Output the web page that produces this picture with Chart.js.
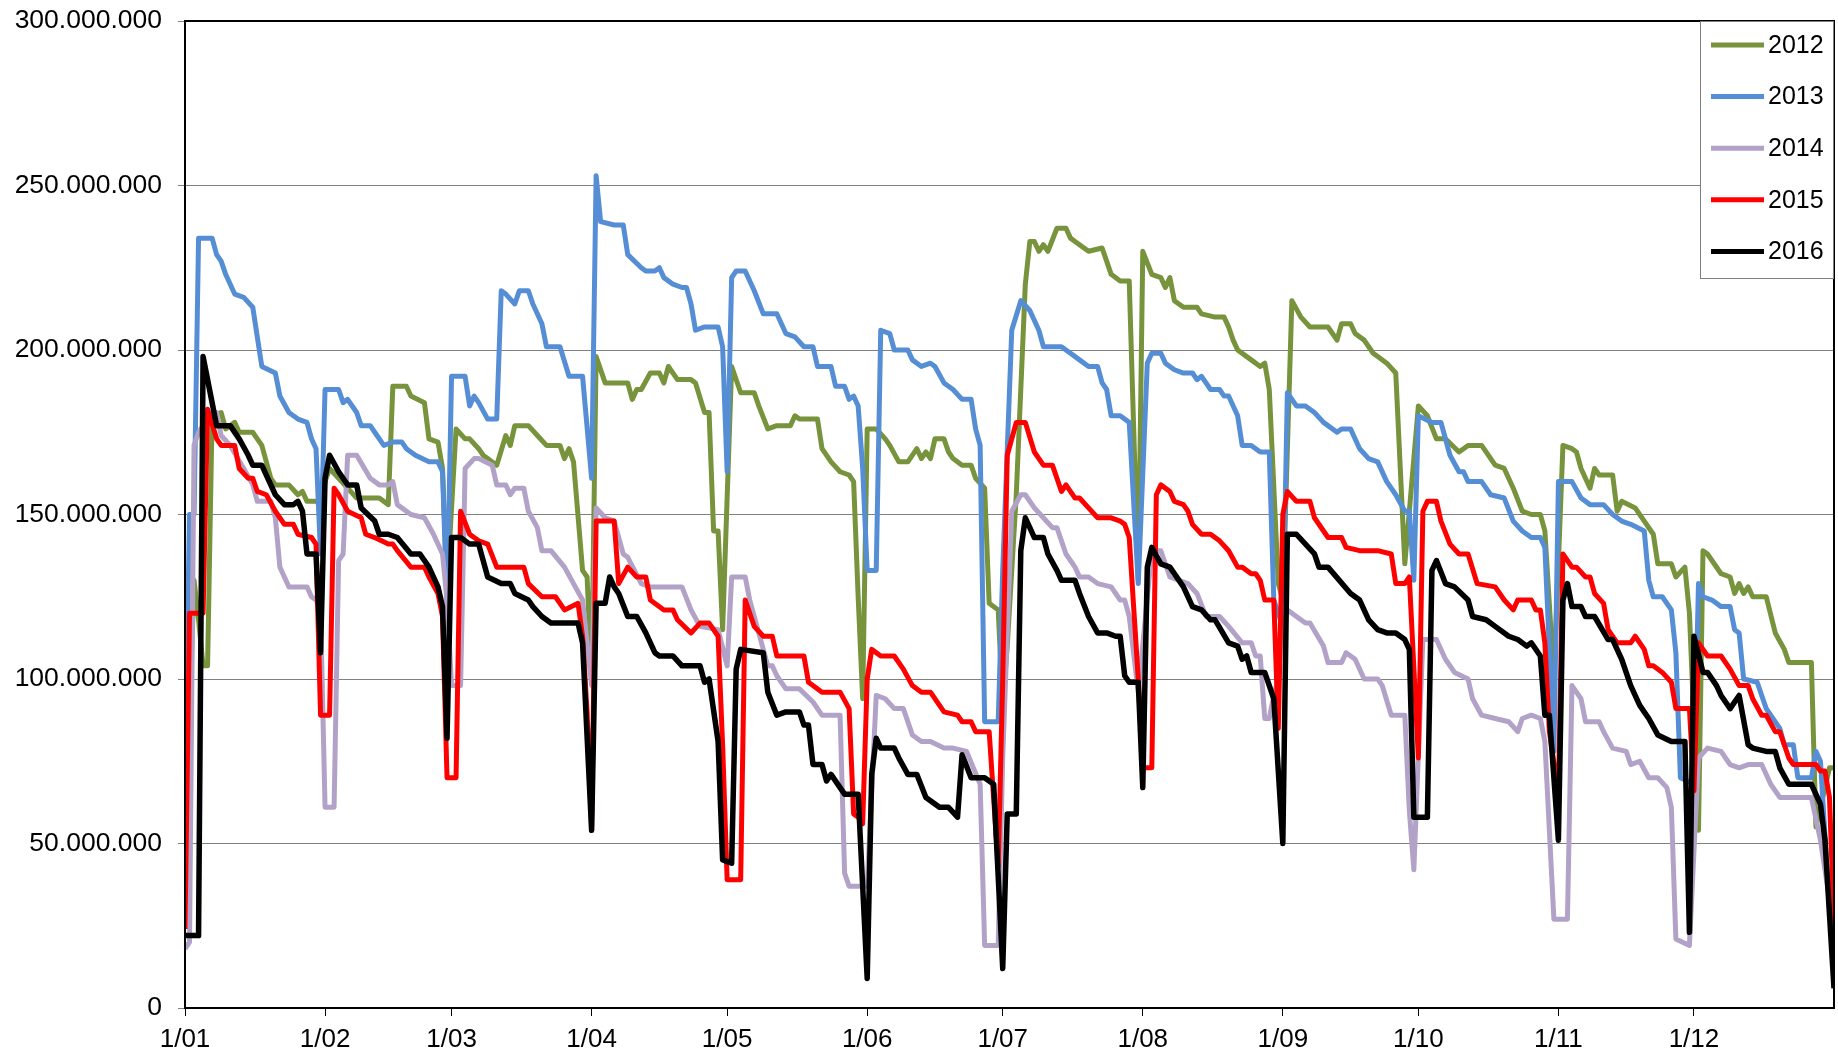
<!DOCTYPE html>
<html>
<head>
<meta charset="utf-8">
<script src="https://cdn.jsdelivr.net/npm/chart.js@4.4.1/dist/chart.umd.min.js"></script>
<style>
  html, body { margin: 0; padding: 0; background: #fff; }
  #wrap { width: 1838px; height: 1059px; }
</style>
</head>
<body>
<div id="wrap"><canvas id="chart" width="1838" height="1059"></canvas></div>
<script>
// x axis: day of year, ticks at the first of each month
const monthStarts = [0, 31, 59, 90, 120, 151, 181, 212, 243, 273, 304, 334];
const monthLabels = ["1/01", "1/02", "1/03", "1/04", "1/05", "1/06", "1/07", "1/08", "1/09", "1/10", "1/11", "1/12"];
const yTicks = [0, 50e6, 100e6, 150e6, 200e6, 250e6, 300e6];

const seriesNames = ["2012", "2013", "2014", "2015", "2016"];
const seriesColors = ["#77933C", "#558ED5", "#B3A2C7", "#FF0000", "#000000"];

// [day, value in millions]
const s2012 = [[0,48],[2,130],[3,118],[4,104],[5,104],[6,180],[8,181],[9,176],[11,178],[12,175],[15,175],[16,173],[17,171],[19,161],[20,159],[23,159],[25,156],[26,157],[27,154],[29,154],[30,153],[31,160],[32,164],[36,158],[38,155],[43,155],[45,153],[46,189],[49,189],[50,186],[53,184],[54,173],[56,172],[57,164],[58,128],[60,176],[62,173],[63,173],[65,170],[66,168],[69,165],[71,174],[72,171],[73,177],[76,177],[78,174],[80,171],[83,171],[84,167],[85,170],[86,166],[88,133],[89,131],[90,100],[91,198],[93,190],[98,190],[99,185],[100,188],[101,188],[103,193],[105,193],[106,190],[107,195],[109,191],[112,191],[113,190],[115,181],[116,181],[117,145],[118,145],[119,115],[121,195],[123,187],[126,187],[127,183],[129,176],[131,177],[134,177],[135,180],[136,179],[140,179],[141,170],[143,166],[145,163],[147,162],[148,160],[149,125],[150,94],[151,176],[153,176],[155,173],[156,171],[158,166],[160,166],[162,170],[163,167],[164,169],[165,167],[166,173],[168,173],[169,169],[170,167],[172,165],[174,165],[175,161],[177,158],[178,123],[180,121],[181,92],[182,110],[184,156],[186,220],[187,233],[188,233],[189,230],[190,232],[191,230],[193,237],[195,237],[196,234],[197,233],[199,231],[200,230],[203,231],[204,227],[205,223],[207,221],[209,221],[211,130],[212,230],[214,223],[216,222],[217,219],[218,222],[219,215],[221,213],[224,213],[225,211],[228,210],[230,210],[231,207],[232,203],[233,200],[236,197],[238,195],[239,196],[240,188],[242,129],[243,124],[245,215],[247,210],[249,207],[253,207],[255,203],[256,208],[258,208],[259,205],[261,203],[263,199],[264,198],[266,196],[268,193],[270,135],[273,183],[275,180],[277,173],[279,173],[282,169],[284,171],[287,171],[290,165],[292,164],[294,158],[296,151],[298,150],[300,150],[301,145],[303,100],[305,171],[307,170],[308,169],[309,164],[311,158],[312,164],[313,162],[316,162],[317,151],[318,154],[321,152],[323,148],[325,144],[326,135],[329,135],[330,131],[332,134],[333,120],[335,54],[336,139],[337,138],[340,132],[342,131],[343,126],[344,129],[345,126],[346,128],[347,125],[350,125],[352,114],[354,109],[355,105],[360,105],[361,55],[364,73],[365,73]];
const s2013 = [[0,70],[1,150],[2,150],[3,234],[6,234],[7,229],[8,227],[9,223],[11,217],[13,216],[15,213],[16,204],[17,195],[20,193],[21,186],[23,181],[25,179],[27,178],[28,173],[29,170],[30,138],[31,188],[34,188],[35,184],[36,185],[38,181],[39,177],[41,177],[42,175],[44,171],[46,172],[48,172],[49,170],[51,168],[54,166],[56,166],[57,163],[58,122],[59,192],[62,192],[63,183],[64,186],[65,184],[67,179],[69,179],[70,218],[71,217],[73,214],[74,218],[76,218],[77,214],[79,208],[80,201],[83,201],[85,192],[88,192],[90,161],[91,253],[92,239],[95,238],[97,238],[98,229],[101,225],[102,224],[104,224],[105,225],[106,222],[108,220],[110,219],[111,219],[112,214],[113,206],[115,207],[118,207],[119,201],[120,163],[121,222],[122,224],[124,224],[126,218],[128,211],[131,211],[133,205],[135,204],[137,201],[139,201],[140,195],[143,195],[144,189],[146,189],[147,185],[148,186],[149,183],[150,164],[151,133],[153,133],[154,206],[156,205],[157,200],[160,200],[161,197],[163,195],[165,196],[166,195],[168,190],[170,188],[172,185],[174,185],[175,176],[176,171],[177,87],[180,87],[181,133],[183,206],[185,215],[187,212],[189,206],[190,201],[194,201],[196,199],[198,197],[200,195],[202,195],[203,190],[204,188],[205,180],[207,180],[209,178],[211,129],[213,196],[214,199],[216,199],[217,196],[219,194],[221,193],[223,193],[224,191],[225,192],[226,190],[227,188],[229,188],[230,186],[231,186],[233,180],[234,171],[236,171],[238,169],[240,169],[241,124],[243,116],[244,187],[246,183],[248,183],[250,181],[252,178],[255,175],[256,176],[258,176],[260,170],[262,167],[264,166],[266,160],[268,156],[270,151],[271,151],[272,130],[273,180],[276,178],[278,178],[280,168],[282,163],[283,163],[284,160],[287,160],[289,156],[292,155],[294,148],[296,145],[298,143],[300,143],[301,140],[303,78],[304,160],[307,160],[309,155],[311,153],[314,153],[316,150],[318,148],[320,147],[323,145],[324,130],[325,125],[327,125],[329,121],[330,108],[331,70],[334,68],[335,129],[336,125],[338,124],[340,122],[342,122],[343,115],[344,114],[345,100],[348,99],[349,95],[350,91],[353,85],[354,80],[356,80],[357,70],[360,70],[361,78],[362,75],[364,30],[365,22]];
const s2014 = [[0,18],[1,20],[2,171],[3,175],[6,181],[7,181],[8,174],[10,171],[13,164],[15,159],[16,154],[19,154],[20,149],[21,134],[22,131],[23,128],[27,128],[28,125],[29,124],[30,121],[31,61],[33,61],[34,136],[35,138],[36,168],[38,168],[41,161],[43,159],[45,159],[46,160],[47,153],[50,150],[53,149],[55,144],[57,138],[58,124],[59,98],[61,98],[62,164],[64,167],[65,167],[68,165],[69,159],[71,159],[72,156],[73,158],[75,158],[76,151],[78,146],[79,139],[81,139],[84,134],[86,129],[88,124],[90,98],[91,152],[93,149],[95,148],[97,138],[98,137],[101,129],[103,128],[110,128],[112,121],[114,116],[118,115],[120,104],[121,131],[124,131],[125,124],[127,114],[129,104],[130,104],[131,101],[133,97],[136,97],[139,93],[141,89],[145,89],[146,41],[147,37],[151,37],[153,95],[155,94],[157,91],[159,91],[161,83],[163,81],[165,81],[168,79],[170,79],[173,78],[176,68],[177,19],[180,19],[181,76],[183,151],[185,156],[186,156],[188,152],[190,149],[192,146],[193,146],[195,138],[197,134],[198,131],[200,131],[202,129],[205,128],[207,124],[208,124],[209,119],[211,96],[214,139],[216,139],[218,131],[222,129],[224,126],[226,119],[229,119],[231,116],[234,111],[236,111],[237,107],[238,107],[239,88],[240,88],[241,95],[242,100],[243,122],[246,119],[248,117],[249,117],[252,110],[253,105],[256,105],[257,108],[259,106],[261,100],[264,100],[265,98],[267,89],[270,89],[271,60],[272,42],[274,112],[277,112],[279,106],[281,102],[284,100],[285,94],[287,89],[290,88],[293,87],[295,84],[296,88],[298,89],[300,88],[301,81],[303,27],[306,27],[307,98],[309,94],[310,87],[313,87],[314,84],[316,79],[319,78],[320,74],[322,75],[324,70],[326,70],[328,67],[329,61],[330,21],[333,19],[335,76],[337,79],[340,78],[342,74],[344,73],[346,74],[349,74],[351,68],[353,64],[360,64],[362,51],[364,33],[365,32]];
const s2015 = [[0,24],[1,120],[4,120],[5,182],[7,173],[8,171],[11,171],[12,164],[14,161],[15,161],[16,157],[18,156],[20,151],[22,147],[24,147],[25,144],[28,143],[29,141],[30,89],[32,89],[33,158],[34,156],[36,151],[39,149],[40,144],[42,143],[45,141],[46,141],[47,139],[50,134],[53,134],[54,131],[56,126],[57,119],[58,70],[60,70],[61,151],[63,144],[65,142],[67,141],[69,134],[71,134],[73,134],[75,134],[76,129],[79,125],[82,125],[84,121],[87,123],[88,113],[89,90],[90,55],[91,148],[95,148],[96,129],[98,134],[100,131],[102,131],[103,124],[106,121],[108,121],[109,118],[112,114],[114,117],[116,117],[118,113],[119,80],[120,39],[123,39],[124,124],[126,116],[128,113],[130,113],[131,107],[137,107],[138,99],[139,98],[141,96],[145,96],[147,91],[148,59],[149,58],[150,56],[151,100],[152,109],[154,107],[157,107],[159,103],[161,98],[163,96],[165,96],[168,90],[171,89],[172,87],[174,87],[175,84],[178,84],[180,43],[181,100],[182,168],[184,178],[186,178],[188,169],[190,165],[192,165],[194,157],[195,159],[197,155],[198,155],[200,152],[202,149],[205,149],[207,148],[208,147],[209,143],[211,100],[212,73],[214,73],[215,156],[216,159],[218,157],[219,154],[221,153],[222,151],[223,147],[225,144],[227,144],[229,142],[231,139],[233,134],[234,134],[236,132],[237,132],[238,130],[239,124],[241,124],[242,85],[243,150],[244,157],[246,154],[249,154],[250,149],[253,143],[256,143],[257,140],[260,139],[264,139],[267,138],[268,129],[270,129],[271,131],[273,76],[274,151],[275,154],[277,154],[278,148],[280,141],[282,138],[284,138],[286,129],[290,128],[292,124],[294,121],[295,124],[298,124],[299,121],[300,121],[301,111],[302,84],[304,65],[305,138],[307,134],[308,134],[310,131],[311,131],[312,126],[314,123],[315,115],[317,111],[320,111],[321,113],[323,109],[324,104],[325,104],[327,102],[329,99],[330,91],[333,91],[334,66],[335,111],[337,107],[340,107],[342,103],[344,98],[346,98],[347,94],[349,89],[350,89],[352,84],[353,84],[355,76],[356,74],[361,74],[362,72],[363,72],[364,64],[365,26]];
const s2016 = [[0,22],[3,22],[4,198],[5,191],[6,184],[7,177],[10,177],[12,173],[14,168],[15,165],[17,165],[18,162],[20,156],[22,153],[24,153],[25,154],[26,151],[27,138],[29,138],[30,108],[31,161],[32,168],[34,163],[36,159],[38,159],[39,152],[42,148],[43,144],[45,144],[47,143],[50,138],[52,138],[54,134],[56,128],[57,122],[58,82],[59,143],[61,143],[63,141],[65,141],[67,131],[70,129],[72,129],[73,126],[76,124],[77,122],[79,119],[81,117],[87,117],[88,111],[90,54],[91,123],[93,123],[94,131],[95,128],[96,126],[98,119],[100,119],[102,114],[104,108],[105,107],[108,107],[110,104],[114,104],[115,99],[116,100],[118,81],[119,45],[121,44],[122,103],[123,109],[128,108],[129,96],[131,89],[133,90],[136,90],[137,86],[138,86],[139,74],[141,74],[142,69],[143,71],[145,67],[146,65],[149,65],[151,9],[152,71],[153,82],[154,79],[157,79],[158,76],[160,71],[162,71],[164,64],[165,63],[167,61],[169,61],[171,58],[172,77],[174,70],[177,70],[179,68],[181,12],[182,59],[184,59],[185,139],[186,149],[187,146],[188,143],[190,143],[191,138],[193,133],[194,130],[197,130],[198,126],[200,119],[202,114],[204,114],[206,113],[207,113],[208,101],[209,99],[211,99],[212,67],[213,134],[214,140],[216,135],[218,134],[221,128],[223,122],[225,121],[227,118],[228,118],[231,111],[233,110],[234,106],[235,107],[236,102],[239,102],[241,94],[243,50],[244,144],[246,144],[250,138],[251,134],[253,134],[258,126],[260,124],[262,118],[264,115],[266,114],[268,114],[270,112],[271,109],[272,58],[275,58],[276,133],[277,136],[279,129],[281,128],[284,124],[285,119],[288,118],[290,116],[293,113],[295,112],[297,110],[298,111],[300,107],[301,89],[302,89],[304,51],[305,124],[306,129],[307,122],[309,122],[310,119],[312,119],[315,112],[316,112],[318,106],[320,98],[322,92],[324,88],[326,83],[329,81],[332,81],[333,23],[334,113],[336,102],[337,102],[339,98],[340,95],[342,91],[344,95],[346,80],[347,79],[350,78],[352,78],[353,73],[355,68],[360,68],[362,62],[363,51],[365,6]];

const allSeries = [s2012, s2013, s2014, s2015, s2016];

function dots(n) {
  return String(Math.round(n)).replace(/\B(?=(\d{3})+(?!\d))/g, ".");
}

// frame round the plot area
const framePlugin = {
  id: "frame",
  afterDatasetsDraw(chart) {
    const a = chart.chartArea, ctx = chart.ctx;
    ctx.save();
    ctx.strokeStyle = "#000";
    ctx.lineWidth = 2;
    ctx.strokeRect(a.left, a.top, a.right - a.left, a.bottom - a.top);
    ctx.restore();
  }
};

// legend box sitting in the top right corner of the plot
const boxLegend = {
  id: "boxLegend",
  afterDraw(chart) {
    const a = chart.chartArea, ctx = chart.ctx;
    const w = 134, h = 258;
    const x0 = a.right - w, y0 = a.top;
    ctx.save();
    ctx.fillStyle = "#fff";
    ctx.fillRect(x0, y0, w, h);
    ctx.strokeStyle = "#7f7f7f";
    ctx.lineWidth = 1;
    ctx.strokeRect(x0 + 0.5, y0 + 0.5, w - 1, h - 1);
    ctx.font = "25px 'Liberation Sans', Arial, sans-serif";
    ctx.textBaseline = "middle";
    chart.data.datasets.forEach((ds, i) => {
      const y = y0 + 24 + i * 51.6;
      ctx.strokeStyle = ds.borderColor;
      ctx.lineWidth = 5;
      ctx.beginPath();
      ctx.moveTo(x0 + 11, y);
      ctx.lineTo(x0 + 64, y);
      ctx.stroke();
      ctx.fillStyle = "#000";
      ctx.fillText(ds.label, x0 + 68, y + 1);
    });
    ctx.restore();
  }
};

const datasets = seriesNames.map((name, i) => ({
  label: name,
  data: allSeries[i].map(p => ({ x: p[0], y: p[1] * 1e6 })),
  borderColor: seriesColors[i],
  backgroundColor: seriesColors[i],
  borderWidth: i === 4 ? 5.5 : 5,
  pointRadius: 0,
  tension: 0,
  borderJoinStyle: "round",
  fill: false,
  order: 5 - i
}));

new Chart(document.getElementById("chart"), {
  type: "line",
  data: { datasets: datasets },
  plugins: [framePlugin, boxLegend],
  options: {
    responsive: false,
    devicePixelRatio: 1,
    animation: false,
    layout: { padding: { top: 21, right: 4, left: 0, bottom: 0 } },
    plugins: {
      legend: { display: false },
      tooltip: { enabled: false }
    },
    scales: {
      x: {
        type: "linear",
        min: 0,
        max: 365,
        afterBuildTicks: (scale) => { scale.ticks = monthStarts.map(v => ({ value: v })); },
        afterFit: (scale) => { scale.height = 51; },
        ticks: {
          autoSkip: false,
          maxRotation: 0,
          padding: 8,
          color: "#000",
          font: { size: 26, family: "'Liberation Sans', Arial, sans-serif" },
          callback: (v) => monthLabels[monthStarts.indexOf(v)]
        },
        grid: { drawOnChartArea: false, drawTicks: true, tickLength: 8, color: "#000", lineWidth: 1 },
        border: { color: "#000", width: 2 }
      },
      y: {
        min: 0,
        max: 300e6,
        afterBuildTicks: (scale) => { scale.ticks = yTicks.map(v => ({ value: v })); },
        afterFit: (scale) => {
          scale.width = 185;
          scale.paddingTop = 0;
          scale.paddingBottom = 0;
        },
        ticks: {
          padding: 16,
          color: "#000",
          font: { size: 26.5, family: "'Liberation Sans', Arial, sans-serif" },
          callback: (v) => dots(v)
        },
        grid: { color: "#808080", lineWidth: 1, tickLength: 7 },
        border: { color: "#000", width: 2 }
      }
    }
  }
});
</script>
</body>
</html>
